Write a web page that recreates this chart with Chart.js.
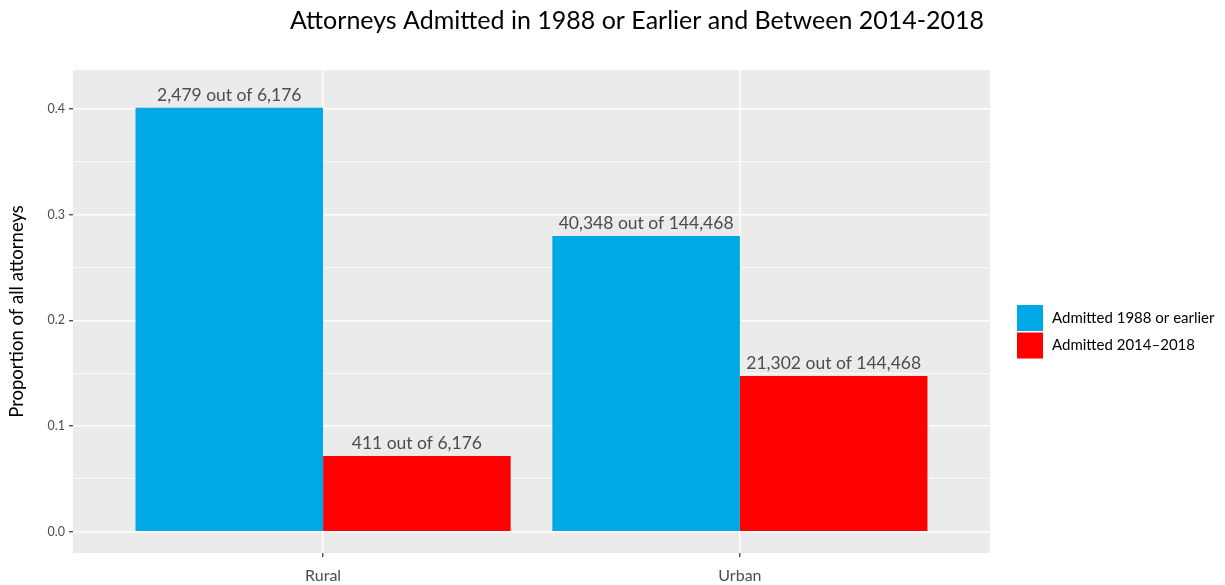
<!DOCTYPE html>
<html>
<head>
<meta charset="utf-8">
<script src="https://cdn.jsdelivr.net/npm/chart.js@4.4.1/dist/chart.umd.min.js"></script>
<style>
    html, body { margin: 0; padding: 0; background: #ffffff; }
    #wrap { width: 1225px; height: 585px; }
</style>
</head>
<body>
<div id="wrap"><canvas id="chart1" width="1225" height="585"></canvas></div>
<script>
var categories = ["Rural", "Urban"];
var seriesNames = ["Admitted 1988 or earlier", "Admitted 2014\u20132018"];
var oldShare = [0.401, 0.2797];
var newShare = [0.0716, 0.1473];
var oldLabels = ["2,479 out of 6,176", "40,348 out of 144,468"];
var newLabels = ["411 out of 6,176", "21,302 out of 144,468"];
var yTicks = [0, 0.05, 0.1, 0.15, 0.2, 0.25, 0.3, 0.35, 0.4];
var chartTitle = "Attorneys Admitted in 1988 or Earlier and Between 2014-2018";
var yTitle = "Proportion of all attorneys";

var FONT = "Lato, 'Open Sans', sans-serif";
var seriesColors = ['#00A9E6', '#FF0000'];

function isMajor(v) {
    return Math.abs(v * 10 - Math.round(v * 10)) < 1e-6;
}

// panel background + title + legend + bar labels
var ggPlugin = {
    id: 'gg',
    beforeDraw: function (chart) {
        var ctx = chart.ctx, a = chart.chartArea;
        ctx.save();
        ctx.fillStyle = '#EBEBEB';
        ctx.fillRect(a.left, a.top, a.right - a.left, a.bottom - a.top);
        ctx.restore();
    },
    afterDatasetsDraw: function (chart) {
        var ctx = chart.ctx;
        var labelSets = [oldLabels, newLabels];
        ctx.save();
        ctx.font = "17.5px " + FONT;
        ctx.fillStyle = '#4D4D4D';
        ctx.textAlign = 'center';
        ctx.textBaseline = 'alphabetic';
        chart.data.datasets.forEach(function (ds, di) {
            var meta = chart.getDatasetMeta(di);
            meta.data.forEach(function (bar, i) {
                ctx.fillText(labelSets[di][i], bar.x, bar.y - 7);
            });
        });
        ctx.restore();
    },
    afterDraw: function (chart) {
        var ctx = chart.ctx;
        ctx.save();
        // title
        ctx.font = "25px " + FONT;
        ctx.fillStyle = '#000000';
        ctx.textAlign = 'center';
        ctx.textBaseline = 'middle';
        ctx.fillText(chartTitle, 637, 21);
        // legend
        ctx.font = "15px " + FONT;
        ctx.textAlign = 'left';
        for (var i = 0; i < seriesNames.length; i++) {
            var y = 305 + i * 27.5;
            ctx.fillStyle = seriesColors[i];
            ctx.fillRect(1017, y, 26, 26);
            ctx.fillStyle = '#000000';
            ctx.fillText(seriesNames[i], 1052, y + 13);
        }
        ctx.restore();
    }
};

var ctxChart1 = document.getElementById('chart1').getContext('2d');
var chart1 = new Chart(ctxChart1, {
    type: 'bar',
    plugins: [ggPlugin],
    data: {
        datasets: [{
            label: seriesNames[0],
            data: categories.map(function (c, i) { return { x: i + 1, y: oldShare[i] }; }),
            backgroundColor: seriesColors[0],
            categoryPercentage: 0.9,
            barPercentage: 1.0
        }, {
            label: seriesNames[1],
            data: categories.map(function (c, i) { return { x: i + 1, y: newShare[i] }; }),
            backgroundColor: seriesColors[1],
            categoryPercentage: 0.9,
            barPercentage: 1.0
        }]
    },
    options: {
        responsive: false,
        animation: false,
        devicePixelRatio: 1,
        layout: { padding: { left: 0, top: 70, right: 235, bottom: 0 } },
        plugins: {
            legend: { display: false },
            title: { display: false },
            tooltip: { enabled: false }
        },
        scales: {
            x: {
                type: 'linear',
                min: 0.4,
                max: 2.6,
                offset: false,
                afterBuildTicks: function (scale) {
                    scale.ticks = categories.map(function (c, i) { return { value: i + 1 }; });
                },
                afterFit: function (scale) { scale.height = 32; },
                border: { display: false },
                grid: {
                    offset: false,
                    color: '#FFFFFF',
                    lineWidth: 1.5,
                    tickColor: '#333333',
                    tickWidth: 1.2,
                    tickLength: 4
                },
                ticks: {
                    padding: 9,
                    color: '#4D4D4D',
                    font: { family: FONT, size: 16 },
                    callback: function (v) { return categories[v - 1]; }
                }
            },
            y: {
                min: -0.0201,
                max: 0.4368,
                afterBuildTicks: function (scale) {
                    scale.ticks = yTicks.map(function (v) { return { value: v }; });
                },
                afterFit: function (scale) { scale.width = 73; },
                border: { display: false },
                grid: {
                    color: '#FFFFFF',
                    lineWidth: function (c) { return isMajor(c.tick.value) ? 1.5 : 0.7; },
                    tickColor: function (c) { return isMajor(c.tick.value) ? '#333333' : 'rgba(0,0,0,0)'; },
                    tickWidth: 1.2,
                    tickLength: 4
                },
                ticks: {
                    padding: 4,
                    color: '#4D4D4D',
                    font: { family: FONT, size: 12.5 },
                    callback: function (v) { return isMajor(v) ? v.toFixed(1) : ''; }
                },
                title: {
                    display: true,
                    text: yTitle,
                    color: '#000000',
                    font: { family: FONT, size: 18.5 },
                    padding: { top: 6, bottom: 0 }
                }
            }
        }
    }
});
</script>
</body>
</html>
